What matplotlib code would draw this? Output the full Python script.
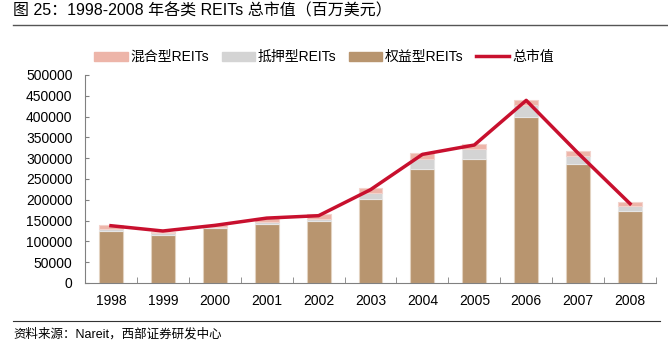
import matplotlib
matplotlib.use("Agg")
import matplotlib.pyplot as plt
import numpy as np
from matplotlib.lines import Line2D

plt.rcParams["font.family"] = ["Liberation Sans", "Noto Sans CJK SC"]

anos = ["1998", "1999", "2000", "2001", "2002", "2003", "2004", "2005", "2006", "2007", "2008"]
equity = [124000, 115500, 131500, 143000, 148000, 202500, 274000, 299000, 399000, 286000, 174000]
mortgage = [6000, 4800, 3500, 4800, 5800, 13700, 24800, 24000, 29600, 19300, 12000]
hybrid = [10500, 3000, 5500, 9500, 11000, 11000, 12500, 11000, 12500, 11000, 8000]
total = [137700, 125000, 138500, 156000, 161800, 224300, 309200, 331700, 439000, 312000, 190600]

COR_EQ = "#B8956F"
COR_MORT = "#D4D4D4"
COR_HYB = "#EDB5A9"
COR_TOTAL = "#C8102E"

fig = plt.figure(figsize=(6.68, 3.56), dpi=100)
ax = fig.add_axes([85 / 668, 1 - 283 / 356, 571 / 668, 208 / 356])

x = np.arange(len(anos))
w = 0.46
eq = np.array(equity)
mo = np.array(mortgage)
hy = np.array(hybrid)
ax.bar(x, eq, w, color=COR_EQ, edgecolor="#E2D2C0", linewidth=0.8, zorder=2)
ax.bar(x, mo, w, bottom=eq, color=COR_MORT, edgecolor="#E6E6E6", linewidth=0.8, zorder=2)
ax.bar(x, hy, w, bottom=eq + mo, color=COR_HYB, edgecolor="#F3D3CC", linewidth=0.8, zorder=2)
ax.plot(x, total, color=COR_TOTAL, linewidth=2.5, zorder=3)

ax.set_xlim(-0.5, len(anos) - 0.5)
ax.set_ylim(0, 500000)
ax.set_yticks(np.arange(0, 500001, 50000))
ax.set_yticklabels([str(v) for v in range(0, 500001, 50000)], fontsize=10)
ax.set_xticks(x)
ax.set_xticklabels(anos, fontsize=10)
ax.set_xticks(np.arange(-0.5, len(anos), 1), minor=True)
ax.tick_params(axis="x", which="major", length=0, pad=8)
ax.tick_params(axis="x", which="minor", length=4, direction="in", color="#808080")
ax.tick_params(axis="y", length=3, direction="in", color="#808080", pad=9)
for s in ["top", "right"]:
    ax.spines[s].set_visible(False)
for s in ["left", "bottom"]:
    ax.spines[s].set_color("#808080")

handles = [
    plt.Rectangle((0, 0), 1, 1, color=COR_HYB),
    plt.Rectangle((0, 0), 1, 1, color=COR_MORT),
    plt.Rectangle((0, 0), 1, 1, color=COR_EQ),
    Line2D([0], [0], color=COR_TOTAL, linewidth=2.5),
]
labels = ["混合型REITs", "抵押型REITs", "权益型REITs", "总市值"]
fig.legend(handles, labels, loc="center", bbox_to_anchor=(324 / 668, 1 - 57 / 356),
           ncol=4, frameon=False, fontsize=10, handlelength=2.4, handleheight=0.6,
           handletextpad=0.2, columnspacing=0.9)

fig.text(13 / 668, 1 - 11 / 356, "图 25：1998-2008 年各类 REITs 总市值（百万美元）",
         fontsize=11.5, va="center", ha="left")
fig.add_artist(Line2D([13 / 668, 1.0], [1 - 25 / 356, 1 - 25 / 356], color="#555555", linewidth=1))
fig.add_artist(Line2D([13 / 668, 660 / 668], [1 - 321 / 356, 1 - 321 / 356], color="#333333", linewidth=0.8))
fig.text(13 / 668, 1 - 334 / 356, "资料来源：Nareit，西部证券研发中心", fontsize=9, va="center", ha="left")

fig.savefig("out.png", dpi=100)
